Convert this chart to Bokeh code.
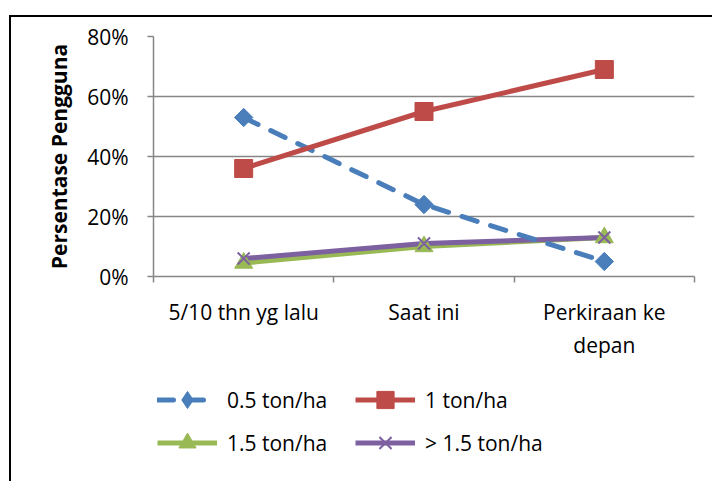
import math
from bokeh.plotting import figure
from bokeh.layouts import column
from bokeh.models import Range1d, FixedTicker, NumeralTickFormatter, Legend, LegendItem
from bokeh.embed import file_html
from bokeh.resources import INLINE

categories = ["5/10 thn yg lalu", "Saat ini", "Perkiraan ke\ndepan"]
s_05 = [0.53, 0.24, 0.05]
s_1 = [0.36, 0.55, 0.69]
s_15 = [0.045, 0.10, 0.13]
s_gt15 = [0.06, 0.11, 0.13]
series_names = ["0.5 ton/ha", "1 ton/ha", "1.5 ton/ha", "> 1.5 ton/ha"]
y_ticks = [0, 0.2, 0.4, 0.6, 0.8]

FONT = "Open Sans"
GRAY = "#868686"
BLUE = "#4A7EBB"
RED = "#BE4B48"
GREEN = "#98B954"
PURPLE = "#7D60A0"
x_vals = [i + 0.5 for i in range(len(categories))]

p = figure(width=701, height=353, output_backend="svg", toolbar_location=None,
           x_range=Range1d(0, len(categories)), y_range=Range1d(0, 0.8),
           min_border_left=142, min_border_right=18, min_border_top=19, min_border_bottom=94)
p.outline_line_color = None
p.background_fill_color = "white"
p.border_fill_color = "white"

# grid
p.xgrid.visible = False
p.ygrid.grid_line_color = GRAY
p.ygrid.grid_line_width = 1.5
p.ygrid.ticker = FixedTicker(ticks=y_ticks)

# y axis
p.yaxis.ticker = FixedTicker(ticks=y_ticks)
p.yaxis.formatter = NumeralTickFormatter(format="0%")
p.yaxis.axis_line_color = GRAY
p.yaxis.axis_line_width = 1.5
p.yaxis.major_tick_line_color = GRAY
p.yaxis.major_tick_line_width = 1.5
p.yaxis.major_tick_out = 6
p.yaxis.major_tick_in = 0
p.yaxis.minor_tick_line_color = None
p.yaxis.major_label_standoff = 19
p.yaxis.major_label_text_font = FONT
p.yaxis.major_label_text_font_size = "21px"
p.yaxis.major_label_text_color = "black"
p.yaxis.axis_label = "Persentase Pengguna"
p.yaxis.axis_label_text_font = FONT
p.yaxis.axis_label_text_font_size = "21px"
p.yaxis.axis_label_text_font_style = "bold"
p.yaxis.axis_label_text_color = "black"
p.yaxis.axis_label_standoff = 11

# x axis
p.xaxis.ticker = FixedTicker(ticks=x_vals, minor_ticks=list(range(len(categories) + 1)))
p.xaxis.major_label_overrides = {x: c for x, c in zip(x_vals, categories)}
p.xaxis.axis_line_color = GRAY
p.xaxis.axis_line_width = 1.5
p.xaxis.major_tick_line_color = None
p.xaxis.major_tick_out = 0
p.xaxis.major_tick_in = 0
p.xaxis.minor_tick_line_color = GRAY
p.xaxis.minor_tick_line_width = 1.5
p.xaxis.minor_tick_out = 6
p.xaxis.minor_tick_in = 0
p.xaxis.major_label_standoff = 15
p.xaxis.major_label_text_font = FONT
p.xaxis.major_label_text_font_size = "21px"
p.xaxis.major_label_text_color = "black"
p.xaxis.major_label_text_align = "center"

lw = 5
styles = [
    dict(line_color=BLUE, line_width=lw, line_dash="16 14", line_cap="round"),
    dict(line_color=RED, line_width=lw),
    dict(line_color=GREEN, line_width=lw),
    dict(line_color=PURPLE, line_width=lw),
]
mstyles = [
    dict(marker="square", angle=math.pi / 4, size=13, fill_color=BLUE, line_color=BLUE),
    dict(marker="square", size=18, fill_color=RED, line_color=RED),
    dict(marker="triangle", size=18, fill_color=GREEN, line_color=GREEN),
    dict(marker="x", size=17, line_color=PURPLE, line_width=2),
]
series = [s_05, s_1, s_15, s_gt15]
draw_order = [2, 3, 0, 1]
for i in draw_order:
    p.line(x_vals, series[i], **styles[i])
for i in draw_order:
    p.scatter(x_vals, series[i], **mstyles[i])

# legend panel (separate figure below the chart; its own glyphs lie outside its visible range)
leg = figure(width=701, height=111, output_backend="svg", toolbar_location=None,
             x_range=Range1d(100, 101), y_range=Range1d(100, 101),
             min_border=0, min_border_left=0, min_border_right=0,
             min_border_top=0, min_border_bottom=0)
leg.axis.visible = False
leg.grid.visible = False
leg.outline_line_color = None
leg.background_fill_color = "white"
leg.border_fill_color = "white"
leg_markers = [
    dict(marker="diamond", fill_color=BLUE, line_color=BLUE),
    dict(marker="square", fill_color=RED, line_color=RED),
    dict(marker="triangle", fill_color=GREEN, line_color=GREEN),
    dict(marker="x", line_color=PURPLE, line_width=2),
]
renderers = []
for i in range(len(series)):
    lr = leg.line(x_vals, series[i], **styles[i])
    mr = leg.scatter(x_vals, series[i], **leg_markers[i])
    renderers.append([lr, mr])
legend_order = [0, 2, 1, 3]  # column-major fill -> rows: (0.5, 1), (1.5, >1.5)
items = [LegendItem(label=series_names[i], renderers=renderers[i]) for i in legend_order]
legend = Legend(items=items, ncols=2, location=(4, 17), glyph_width=60, glyph_height=43,
                label_height=43, label_width=128, label_standoff=10, spacing=0,
                padding=0, margin=0, border_line_color=None, background_fill_alpha=0,
                label_text_font=FONT, label_text_font_size="21px", label_text_color="black")
leg.add_layout(legend, "center")

layout = column(p, leg, spacing=0)
layout.margin = (15, 0, 0, 9)
layout.styles = {"border-top": "2px solid black", "border-left": "2px solid black"}

open("out.html", "w").write(file_html(layout, INLINE))
